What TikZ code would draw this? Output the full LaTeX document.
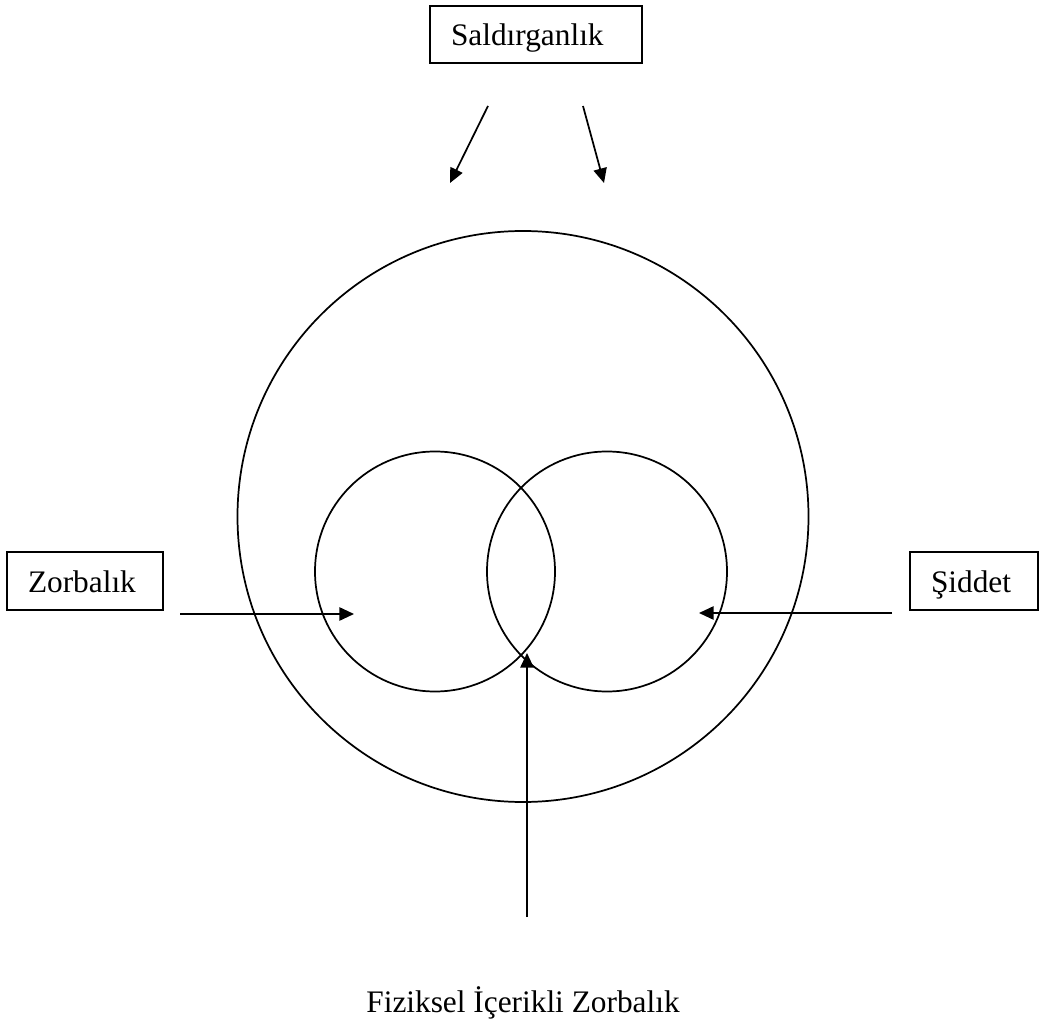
\documentclass[tikz,border=0pt]{standalone}
\usepackage{fontspec}
\setmainfont{Liberation Serif}
\usetikzlibrary{arrows.meta}
\begin{document}
\begin{tikzpicture}[x=0.75pt,y=-0.75pt,
  line width=1.3pt,
  lbl/.style={draw, rectangle, align=left, inner xsep=15.75pt, inner ysep=0pt,
    minimum height=43pt, text height=18pt, text depth=0.75pt,
    font=\fontsize{23.5}{28}\selectfont},
  ring/.style={draw, circle, inner sep=0pt},
  arr/.style={-{Triangle[length=11pt,width=10pt]}}]
\useasboundingbox (0,0) rectangle (1040,1027);
% boxes
\node[lbl, text width=127.5pt] (sal) at (536,34.5) {Saldırganlık};
\node[lbl, text width=85.5pt] (zor) at (85,581) {Zorbalık};
\node[lbl, text width=64.5pt] (sid) at (974,581) {Şiddet};
\node[anchor=base, font=\fontsize{23.5}{28}\selectfont] (fiz) at (523,1012) {Fiziksel İçerikli Zorbalık};
% circles
\node[ring, minimum size=428.25pt] (big) at (523,516.5) {};
\node[ring, minimum size=180pt] (lc) at (435,571.5) {};
\node[ring, minimum size=180pt] (rc) at (607,571.5) {};
% arrow endpoints
\coordinate (a1s) at (488,106);
\coordinate (a1e) at (450,183);
\coordinate (a2s) at (583,106);
\coordinate (a2e) at (604,183);
\coordinate (zs) at (180,614);
\coordinate (ze) at (354,614);
\coordinate (ss) at (892,613);
\coordinate (se) at (699,613);
\coordinate (bs) at (527,917);
\coordinate (be) at (527,653);
% arrows
\draw[arr] (a1s) -- (a1e);
\draw[arr] (a2s) -- (a2e);
\draw[arr] (zs) -- (ze);
\draw[arr] (ss) -- (se);
\draw[arr] (bs) -- (be);
\end{tikzpicture}
\end{document}
